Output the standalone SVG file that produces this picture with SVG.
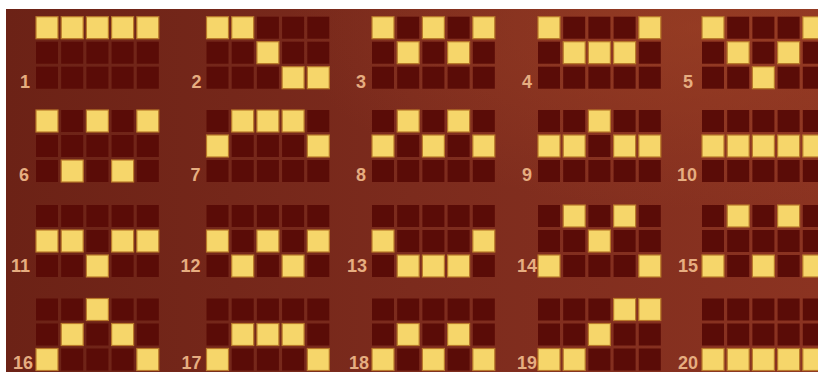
<svg xmlns="http://www.w3.org/2000/svg" xmlns:xlink="http://www.w3.org/1999/xlink" width="818" height="372" viewBox="0 0 818 372">
<style>
.c{fill:#5a0c07}
.y{fill:#f6d66a;stroke:#b9792a;stroke-width:1.2}
.n{font-family:"Liberation Sans",Arial,sans-serif;font-size:18px;font-weight:bold;fill:#e6ad80;text-anchor:end}
</style>
<defs>
<linearGradient id="bgg" x1="0" y1="0" x2="1" y2="0">
<stop offset="0" stop-color="#6c2216"/>
<stop offset="0.5" stop-color="#7c2b1d"/>
<stop offset="1" stop-color="#8b3321"/>
</linearGradient>
<radialGradient id="glow" cx="0.85" cy="0.05" r="0.5">
<stop offset="0" stop-color="#a04426" stop-opacity="0.55"/>
<stop offset="1" stop-color="#a04426" stop-opacity="0"/>
</radialGradient>
<g id="grid">
<rect class="c" x="0" y="0" width="22" height="22"/><rect class="c" x="25.2" y="0" width="22" height="22"/><rect class="c" x="50.4" y="0" width="22" height="22"/><rect class="c" x="75.6" y="0" width="22" height="22"/><rect class="c" x="100.8" y="0" width="22" height="22"/>
<rect class="c" x="0" y="25" width="22" height="22"/><rect class="c" x="25.2" y="25" width="22" height="22"/><rect class="c" x="50.4" y="25" width="22" height="22"/><rect class="c" x="75.6" y="25" width="22" height="22"/><rect class="c" x="100.8" y="25" width="22" height="22"/>
<rect class="c" x="0" y="50" width="22" height="22"/><rect class="c" x="25.2" y="50" width="22" height="22"/><rect class="c" x="50.4" y="50" width="22" height="22"/><rect class="c" x="75.6" y="50" width="22" height="22"/><rect class="c" x="100.8" y="50" width="22" height="22"/>
</g>
</defs>
<rect x="0" y="0" width="818" height="372" fill="#ffffff"/>
<rect x="6" y="9" width="812" height="363" fill="url(#bgg)"/>
<rect x="6" y="9" width="812" height="363" fill="url(#glow)"/>

<g id="line1" transform="translate(36,16.7)"><use xlink:href="#grid"/>
<rect class="y" x="0" y="0" width="22" height="22"/><rect class="y" x="25.2" y="0" width="22" height="22"/><rect class="y" x="50.4" y="0" width="22" height="22"/><rect class="y" x="75.6" y="0" width="22" height="22"/><rect class="y" x="100.8" y="0" width="22" height="22"/>
<text class="n" x="-6" y="71">1</text></g>

<g id="line2" transform="translate(206.5,16.7)"><use xlink:href="#grid"/>
<rect class="y" x="0" y="0" width="22" height="22"/><rect class="y" x="25.2" y="0" width="22" height="22"/><rect class="y" x="50.4" y="25" width="22" height="22"/><rect class="y" x="75.6" y="50" width="22" height="22"/><rect class="y" x="100.8" y="50" width="22" height="22"/>
<text class="n" x="-5" y="71">2</text></g>

<g id="line3" transform="translate(372,16.7)"><use xlink:href="#grid"/>
<rect class="y" x="0" y="0" width="22" height="22"/><rect class="y" x="25.2" y="25" width="22" height="22"/><rect class="y" x="50.4" y="0" width="22" height="22"/><rect class="y" x="75.6" y="25" width="22" height="22"/><rect class="y" x="100.8" y="0" width="22" height="22"/>
<text class="n" x="-6" y="71">3</text></g>

<g id="line4" transform="translate(538,16.7)"><use xlink:href="#grid"/>
<rect class="y" x="0" y="0" width="22" height="22"/><rect class="y" x="25.2" y="25" width="22" height="22"/><rect class="y" x="50.4" y="25" width="22" height="22"/><rect class="y" x="75.6" y="25" width="22" height="22"/><rect class="y" x="100.8" y="0" width="22" height="22"/>
<text class="n" x="-6" y="71">4</text></g>

<g id="line5" transform="translate(702,16.7)"><use xlink:href="#grid"/>
<rect class="y" x="0" y="0" width="22" height="22"/><rect class="y" x="25.2" y="25" width="22" height="22"/><rect class="y" x="50.4" y="50" width="22" height="22"/><rect class="y" x="75.6" y="25" width="22" height="22"/><rect class="y" x="100.8" y="0" width="22" height="22"/>
<text class="n" x="-9" y="71">5</text></g>

<g id="line6" transform="translate(36,110)"><use xlink:href="#grid"/>
<rect class="y" x="0" y="0" width="22" height="22"/><rect class="y" x="25.2" y="50" width="22" height="22"/><rect class="y" x="50.4" y="0" width="22" height="22"/><rect class="y" x="75.6" y="50" width="22" height="22"/><rect class="y" x="100.8" y="0" width="22" height="22"/>
<text class="n" x="-7" y="71">6</text></g>

<g id="line7" transform="translate(206.5,110)"><use xlink:href="#grid"/>
<rect class="y" x="0" y="25" width="22" height="22"/><rect class="y" x="25.2" y="0" width="22" height="22"/><rect class="y" x="50.4" y="0" width="22" height="22"/><rect class="y" x="75.6" y="0" width="22" height="22"/><rect class="y" x="100.8" y="25" width="22" height="22"/>
<text class="n" x="-6" y="71">7</text></g>

<g id="line8" transform="translate(372,110)"><use xlink:href="#grid"/>
<rect class="y" x="0" y="25" width="22" height="22"/><rect class="y" x="25.2" y="0" width="22" height="22"/><rect class="y" x="50.4" y="25" width="22" height="22"/><rect class="y" x="75.6" y="0" width="22" height="22"/><rect class="y" x="100.8" y="25" width="22" height="22"/>
<text class="n" x="-6" y="71">8</text></g>

<g id="line9" transform="translate(538,110)"><use xlink:href="#grid"/>
<rect class="y" x="0" y="25" width="22" height="22"/><rect class="y" x="25.2" y="25" width="22" height="22"/><rect class="y" x="50.4" y="0" width="22" height="22"/><rect class="y" x="75.6" y="25" width="22" height="22"/><rect class="y" x="100.8" y="25" width="22" height="22"/>
<text class="n" x="-6" y="71">9</text></g>

<g id="line10" transform="translate(702,110)"><use xlink:href="#grid"/>
<rect class="y" x="0" y="25" width="22" height="22"/><rect class="y" x="25.2" y="25" width="22" height="22"/><rect class="y" x="50.4" y="25" width="22" height="22"/><rect class="y" x="75.6" y="25" width="22" height="22"/><rect class="y" x="100.8" y="25" width="22" height="22"/>
<text class="n" x="-5" y="71">10</text></g>

<g id="line11" transform="translate(36,205)"><use xlink:href="#grid"/>
<rect class="y" x="0" y="25" width="22" height="22"/><rect class="y" x="25.2" y="25" width="22" height="22"/><rect class="y" x="50.4" y="50" width="22" height="22"/><rect class="y" x="75.6" y="25" width="22" height="22"/><rect class="y" x="100.8" y="25" width="22" height="22"/>
<text class="n" x="-6" y="67">11</text></g>

<g id="line12" transform="translate(206.5,205)"><use xlink:href="#grid"/>
<rect class="y" x="0" y="25" width="22" height="22"/><rect class="y" x="25.2" y="50" width="22" height="22"/><rect class="y" x="50.4" y="25" width="22" height="22"/><rect class="y" x="75.6" y="50" width="22" height="22"/><rect class="y" x="100.8" y="25" width="22" height="22"/>
<text class="n" x="-6" y="67">12</text></g>

<g id="line13" transform="translate(372,205)"><use xlink:href="#grid"/>
<rect class="y" x="0" y="25" width="22" height="22"/><rect class="y" x="25.2" y="50" width="22" height="22"/><rect class="y" x="50.4" y="50" width="22" height="22"/><rect class="y" x="75.6" y="50" width="22" height="22"/><rect class="y" x="100.8" y="25" width="22" height="22"/>
<text class="n" x="-5" y="67">13</text></g>

<g id="line14" transform="translate(538,205)"><use xlink:href="#grid"/>
<rect class="y" x="0" y="50" width="22" height="22"/><rect class="y" x="25.2" y="0" width="22" height="22"/><rect class="y" x="50.4" y="25" width="22" height="22"/><rect class="y" x="75.6" y="0" width="22" height="22"/><rect class="y" x="100.8" y="50" width="22" height="22"/>
<text class="n" x="-1" y="67">14</text></g>

<g id="line15" transform="translate(702,205)"><use xlink:href="#grid"/>
<rect class="y" x="0" y="50" width="22" height="22"/><rect class="y" x="25.2" y="0" width="22" height="22"/><rect class="y" x="50.4" y="50" width="22" height="22"/><rect class="y" x="75.6" y="0" width="22" height="22"/><rect class="y" x="100.8" y="50" width="22" height="22"/>
<text class="n" x="-4" y="67">15</text></g>

<g id="line16" transform="translate(36,298.5)"><use xlink:href="#grid"/>
<rect class="y" x="0" y="50" width="22" height="22"/><rect class="y" x="25.2" y="25" width="22" height="22"/><rect class="y" x="50.4" y="0" width="22" height="22"/><rect class="y" x="75.6" y="25" width="22" height="22"/><rect class="y" x="100.8" y="50" width="22" height="22"/>
<text class="n" x="-3" y="70">16</text></g>

<g id="line17" transform="translate(206.5,298.5)"><use xlink:href="#grid"/>
<rect class="y" x="0" y="50" width="22" height="22"/><rect class="y" x="25.2" y="25" width="22" height="22"/><rect class="y" x="50.4" y="25" width="22" height="22"/><rect class="y" x="75.6" y="25" width="22" height="22"/><rect class="y" x="100.8" y="50" width="22" height="22"/>
<text class="n" x="-5" y="70">17</text></g>

<g id="line18" transform="translate(372,298.5)"><use xlink:href="#grid"/>
<rect class="y" x="0" y="50" width="22" height="22"/><rect class="y" x="25.2" y="25" width="22" height="22"/><rect class="y" x="50.4" y="50" width="22" height="22"/><rect class="y" x="75.6" y="25" width="22" height="22"/><rect class="y" x="100.8" y="50" width="22" height="22"/>
<text class="n" x="-3" y="70">18</text></g>

<g id="line19" transform="translate(538,298.5)"><use xlink:href="#grid"/>
<rect class="y" x="0" y="50" width="22" height="22"/><rect class="y" x="25.2" y="50" width="22" height="22"/><rect class="y" x="50.4" y="25" width="22" height="22"/><rect class="y" x="75.6" y="0" width="22" height="22"/><rect class="y" x="100.8" y="0" width="22" height="22"/>
<text class="n" x="-1" y="70">19</text></g>

<g id="line20" transform="translate(702,298.5)"><use xlink:href="#grid"/>
<rect class="y" x="0" y="50" width="22" height="22"/><rect class="y" x="25.2" y="50" width="22" height="22"/><rect class="y" x="50.4" y="50" width="22" height="22"/><rect class="y" x="75.6" y="50" width="22" height="22"/><rect class="y" x="100.8" y="50" width="22" height="22"/>
<text class="n" x="-4" y="70">20</text></g>
</svg>
